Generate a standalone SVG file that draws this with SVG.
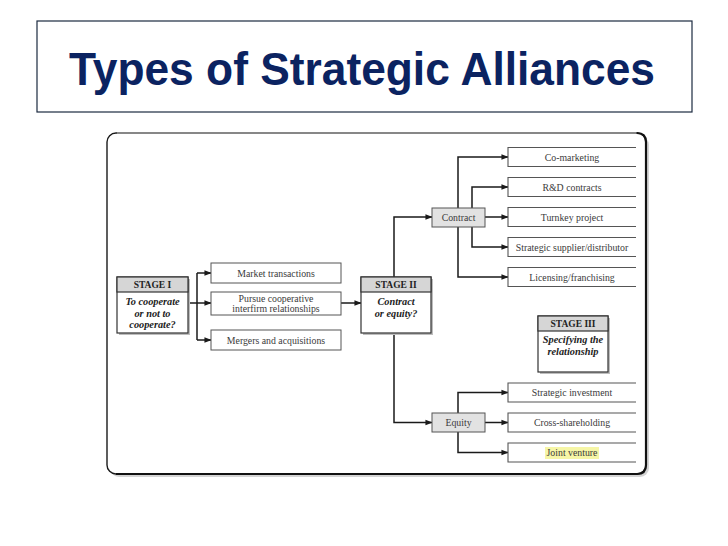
<svg xmlns="http://www.w3.org/2000/svg" width="728" height="546" viewBox="0 0 728 546">
  <defs>
    <marker id="arr" viewBox="0 0 8 8" refX="7.5" refY="4" markerWidth="7" markerHeight="7" markerUnits="userSpaceOnUse" orient="auto">
      <path d="M0,0.8 L8,4 L0,7.2 Z" fill="#1a1a1a"/>
    </marker>
    <style>
      .t{font-family:"Liberation Serif","DejaVu Serif",serif;font-size:9.8px;fill:#3a3a3a;text-anchor:middle}
      .h{font-family:"Liberation Serif","DejaVu Serif",serif;font-size:9.5px;font-weight:bold;fill:#222;text-anchor:middle}
      .q{font-family:"Liberation Serif","DejaVu Serif",serif;font-size:10.3px;font-weight:bold;font-style:italic;fill:#222;text-anchor:middle}
      .box{fill:#fff;stroke:#555;stroke-width:1}
      .sbox{fill:#fff;stroke:#333;stroke-width:1.2}
      .hdr{fill:#d6d6d6;stroke:#333;stroke-width:1.2}
      .gbox{fill:#e2e2e2;stroke:#555;stroke-width:1}
      .open{fill:none;stroke:#555;stroke-width:1.1}
      .sh{fill:#bdbdbd}
      .c{fill:none;stroke:#1a1a1a;stroke-width:1.5}
      .ca{fill:none;stroke:#1a1a1a;stroke-width:1.5;marker-end:url(#arr)}
    </style>
  </defs>
  <rect width="728" height="546" fill="#fff"/>

  <g id="title">
    <rect x="37" y="21" width="655" height="91" fill="#fff" stroke="#1c2a40" stroke-width="1.2"/>
    <text x="69" y="85" textLength="586" lengthAdjust="spacingAndGlyphs" style="font-family:'Liberation Sans',Arial,sans-serif;font-size:47px;font-weight:bold;fill:#0b2361">Types of Strategic Alliances</text>
  </g>

  <g id="frame">
    <rect x="110" y="136" width="539" height="341" rx="9" fill="#d4d4d4"/>
    <rect x="107" y="133" width="539" height="341" rx="9" fill="#fff" stroke="#1a1a1a" stroke-width="1.4"/>
    <line x1="117" y1="133" x2="636" y2="133" stroke="#9a9a9a" stroke-width="1.4"/>
    <path d="M637,133 Q646,133 646,142 V465 Q646,474 637,474 H116" fill="none" stroke="#111" stroke-width="2.2"/>
  </g>

  <g id="connectors">
    <line class="c" x1="188" y1="303" x2="197" y2="303"/>
    <line class="c" x1="197" y1="273" x2="197" y2="340"/>
    <line class="ca" x1="197" y1="273" x2="211" y2="273"/>
    <line class="ca" x1="197" y1="303" x2="211" y2="303"/>
    <line class="ca" x1="197" y1="340" x2="211" y2="340"/>
    <line class="ca" x1="341" y1="303" x2="361" y2="303"/>
    <path class="ca" d="M394,277 V217 H432"/>
    <path class="ca" d="M394,333 V422.5 H432"/>
    <line class="ca" x1="485" y1="217" x2="508" y2="217"/>
    <path class="ca" d="M458,208 V157 H508"/>
    <path class="ca" d="M458,227 V277 H508"/>
    <path class="ca" d="M472,217 V187 H508"/>
    <path class="ca" d="M472,217 V247 H508"/>
    <line class="ca" x1="485" y1="422.5" x2="508" y2="422.5"/>
    <path class="ca" d="M458,413 V392.5 H508"/>
    <path class="ca" d="M458,432 V452.5 H508"/>
  </g>

  <g id="stage1">
    <rect class="sh" x="119" y="279" width="71" height="56"/>
    <rect class="sbox" x="117" y="277" width="71" height="56"/>
    <rect class="hdr" x="117" y="277" width="71" height="15"/>
    <text class="h" x="152.5" y="288">STAGE I</text>
    <text class="q" x="152.5" y="305">To cooperate</text>
    <text class="q" x="152.5" y="316.5">or not to</text>
    <text class="q" x="152.5" y="328">cooperate?</text>
  </g>

  <g id="market">
    <rect class="box" x="211" y="263" width="130" height="20"/>
    <text class="t" x="276" y="276.5">Market transactions</text>
  </g>
  <g id="pursue">
    <rect class="box" x="211" y="292" width="130" height="23"/>
    <text class="t" x="276" y="301.5">Pursue cooperative</text>
    <text class="t" x="276" y="312">interfirm relationships</text>
  </g>
  <g id="mergers">
    <rect class="box" x="211" y="330" width="130" height="20"/>
    <text class="t" x="276" y="343.5">Mergers and acquisitions</text>
  </g>

  <g id="stage2">
    <rect class="sh" x="363" y="279" width="70" height="56"/>
    <rect class="sbox" x="361" y="277" width="70" height="56"/>
    <rect class="hdr" x="361" y="277" width="70" height="15"/>
    <text class="h" x="396" y="288">STAGE II</text>
    <text class="q" x="396" y="305">Contract</text>
    <text class="q" x="396" y="316.5">or equity?</text>
  </g>

  <g id="contract">
    <rect class="gbox" x="432" y="208" width="53" height="19"/>
    <text class="t" x="458.5" y="220.5">Contract</text>
  </g>
  <g id="equity">
    <rect class="gbox" x="432" y="413" width="53" height="19"/>
    <text class="t" x="458.5" y="425.5">Equity</text>
  </g>

  <g id="comarketing">
    <path class="open" d="M636,147.5 H508 V166.5 H636"/>
    <text class="t" x="572" y="160.5">Co-marketing</text>
  </g>
  <g id="rnd">
    <path class="open" d="M636,177.5 H508 V196.5 H636"/>
    <text class="t" x="572" y="190.5">R&amp;D contracts</text>
  </g>
  <g id="turnkey">
    <path class="open" d="M636,207.5 H508 V226.5 H636"/>
    <text class="t" x="572" y="220.5">Turnkey project</text>
  </g>
  <g id="supplier">
    <path class="open" d="M636,237.5 H508 V256.5 H636"/>
    <text class="t" x="572" y="250.5">Strategic supplier/distributor</text>
  </g>
  <g id="licensing">
    <path class="open" d="M636,267.5 H508 V286.5 H636"/>
    <text class="t" x="572" y="280.5">Licensing/franchising</text>
  </g>

  <g id="stage3">
    <rect class="sh" x="540" y="318" width="70" height="56"/>
    <rect class="sbox" x="538" y="316" width="70" height="56"/>
    <rect class="hdr" x="538" y="316" width="70" height="15"/>
    <text class="h" x="573" y="327">STAGE III</text>
    <text class="q" x="573" y="343">Specifying the</text>
    <text class="q" x="573" y="355">relationship</text>
  </g>

  <g id="investment">
    <path class="open" d="M636,383 H508 V402 H636"/>
    <text class="t" x="572" y="396">Strategic investment</text>
  </g>
  <g id="cross">
    <path class="open" d="M636,413 H508 V432 H636"/>
    <text class="t" x="572" y="426">Cross-shareholding</text>
  </g>
  <g id="jv">
    <path class="open" d="M636,443 H508 V462 H636"/>
    <rect x="545" y="447" width="54" height="12" fill="#f6f6a6"/>
    <text class="t" x="572" y="456">Joint venture</text>
  </g>
</svg>
